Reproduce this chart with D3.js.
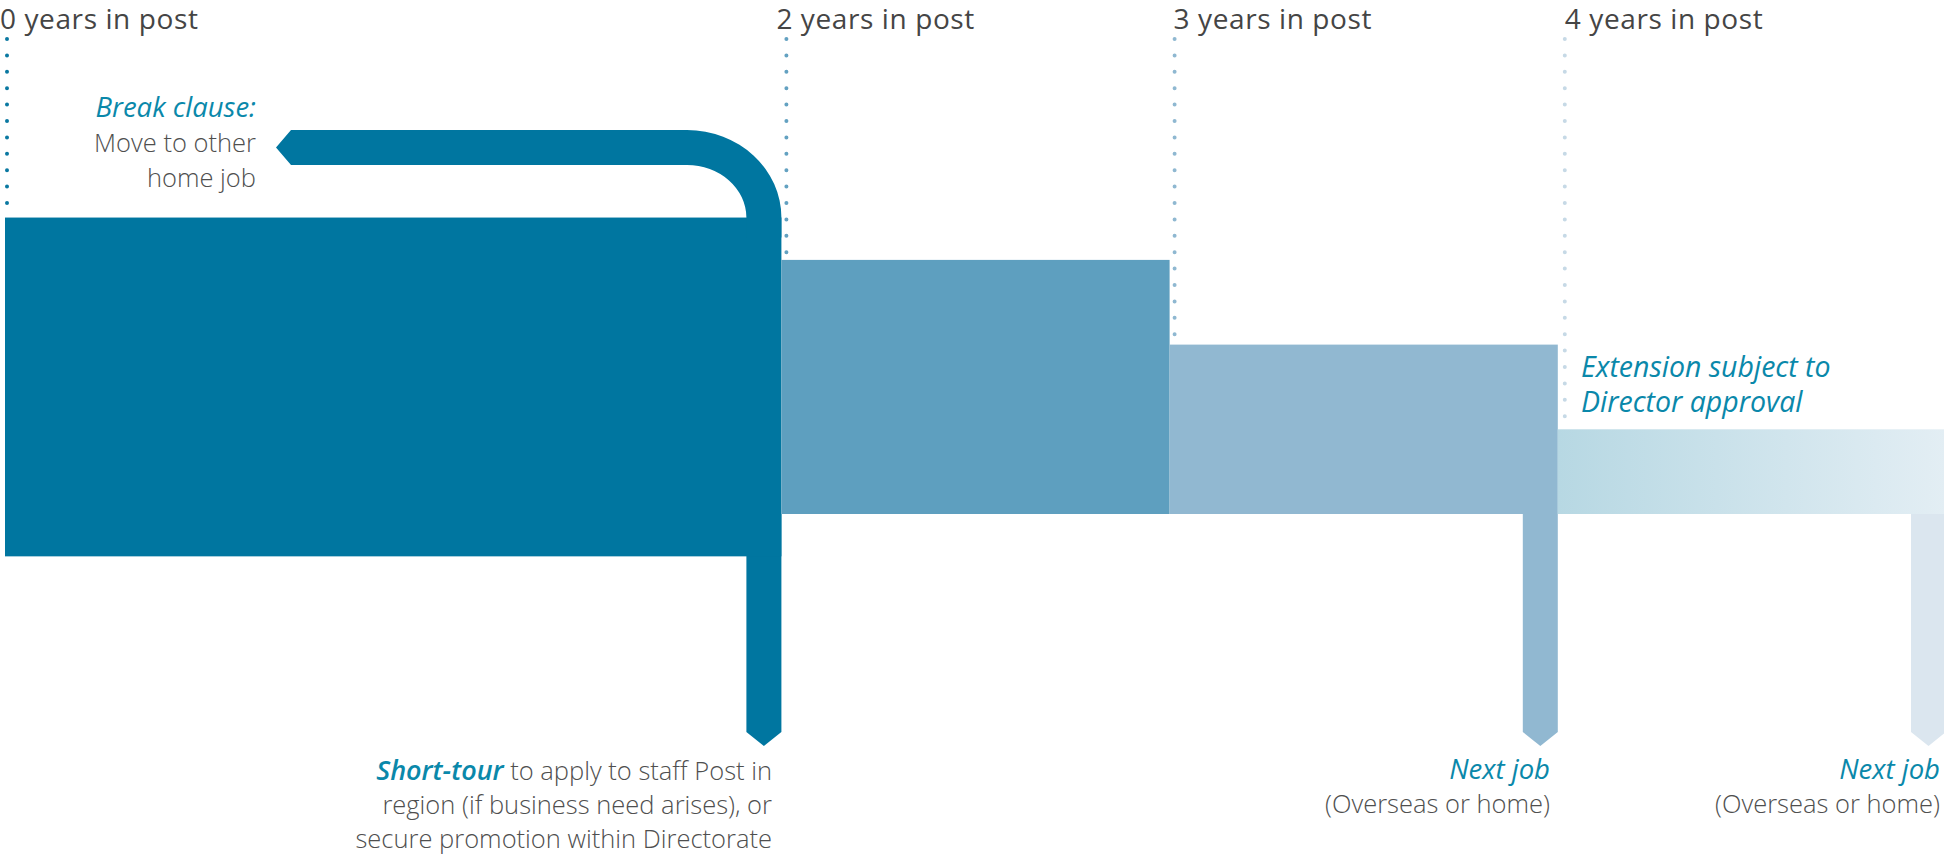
<!DOCTYPE html>
<html>
<head>
<meta charset="utf-8">
<script src="https://cdn.jsdelivr.net/npm/d3@7/dist/d3.min.js"></script>
<style>
  html, body { margin: 0; padding: 0; background: #ffffff; }
  svg { display: block; }
  text { font-family: "Open Sans", "Noto Sans", sans-serif; }
</style>
</head>
<body>
<svg id="chart" width="1944" height="857"></svg>
<script>
// ---------------- DATA ----------------
const headerYears  = [0, 2, 3, 4];
const headerLabels = ["0 years in post", "2 years in post", "3 years in post", "4 years in post"];
const dotColors    = ["#0a78a1", "#63a1c1", "#8fb8d1", "#c6d9e6"];

const stageStart   = [0, 2, 3, 4];       // years
const stageEnd     = [2, 3, 4, 5];       // years
const stageLow     = [-0.5, 0, 0, 0];    // relative size units
const stageHigh    = [3.5, 3, 2, 1];
const stageColors  = ["#0076a0", "#5e9fbf", "#91b8d1", "url(#fade)"];

const exitYears    = [2, 4, 5];
const exitColors   = ["#0076a0", "#91b8d1", "#dbe6ef"];

const fadeStops    = ["#b7d8e3", "#e3eef4"];

// ---------------- LAYOUT ----------------
const W = 1944, H = 857;
const svg = d3.select("#chart");
const x = d3.scaleLinear().domain([0, 5]).range([5, 1946]);
const y = d3.scaleLinear().domain([0, 1]).range([514, 429.3]);

const headerNudge = [-5, -5, 4, 7];
const dotNudge = [2, 5, 5, 7];
const dropW = 35, dropEnd = 732, tip = 14;
const teal = "#0a88aa", gray = "#4f4f4f", headGray = "#454545";

const defs = svg.append("defs");
const grad = defs.append("linearGradient").attr("id", "fade")
  .attr("x1", "0%").attr("x2", "100%").attr("y1", "0%").attr("y2", "0%");
grad.selectAll("stop").data(fadeStops).join("stop")
  .attr("offset", (d, i) => i === 0 ? "0%" : "100%")
  .attr("stop-color", d => d);

// dotted guide lines (stop at the top of the stage they meet)
svg.append("g").selectAll("line").data(headerYears).join("line")
  .attr("x1", (d, i) => x(d) + dotNudge[i]).attr("x2", (d, i) => x(d) + dotNudge[i])
  .attr("y1", 39).attr("y2", (d, i) => y(stageHigh[i]))
  .attr("stroke", (d, i) => dotColors[i])
  .attr("stroke-width", 4)
  .attr("stroke-linecap", "round")
  .attr("stroke-dasharray", "0 16.4");

// headers
svg.append("g").selectAll("text").data(headerYears).join("text")
  .attr("x", (d, i) => x(d) + headerNudge[i])
  .attr("y", 29)
  .attr("font-size", 28)
  .attr("letter-spacing", 0.6)
  .attr("fill", headGray)
  .text((d, i) => headerLabels[i]);

// exit drops
svg.append("g").selectAll("path").data(exitYears).join("path")
  .attr("d", d => {
    const r = x(d), l = r - dropW, m = (l + r) / 2, t = y(0);
    return `M${l},${t}L${r},${t}L${r},${dropEnd}L${m},${dropEnd + tip}L${l},${dropEnd}Z`;
  })
  .attr("fill", (d, i) => exitColors[i]);

// stage bars
svg.append("g").selectAll("rect").data(stageStart).join("rect")
  .attr("x", (d, i) => x(stageStart[i]))
  .attr("width", (d, i) => x(stageEnd[i]) - x(stageStart[i]))
  .attr("y", (d, i) => y(stageHigh[i]))
  .attr("height", (d, i) => y(stageLow[i]) - y(stageHigh[i]))
  .attr("fill", (d, i) => stageColors[i]);

// break clause path (from year-2 edge curving back left)
{
  const R = x(2), L = R - dropW;       // vertical part of the hook
  const bandTop = 130, bandBot = 165;  // horizontal band
  const joinY = y(stageHigh[0]);       // where it meets the first bar
  const cx = 687;                      // arc start
  const leftEnd = 291, tipX = 276;
  const d = [
    `M${tipX},${(bandTop + bandBot) / 2}`,
    `L${leftEnd},${bandTop}`,
    `L${cx},${bandTop}`,
    `A${R - cx},${joinY - bandTop} 0 0 1 ${R},${joinY}`,
    `L${R},${joinY + 20}`,
    `L${L},${joinY + 20}`,
    `L${L},${joinY}`,
    `A${L - cx},${joinY - bandBot} 0 0 0 ${cx},${bandBot}`,
    `L${leftEnd},${bandBot}`,
    "Z"
  ].join("");
  svg.append("path").attr("d", d).attr("fill", stageColors[0]);
}

// ---------------- LABELS ----------------
function block(lines, xPos, y0, dy, anchor) {
  const t = svg.append("text").attr("text-anchor", anchor);
  lines.forEach((ln, i) => {
    ln.forEach((seg, j) => {
      const ts = t.append("tspan").text(seg.t)
        .attr("fill", seg.c === "teal" ? teal : gray)
        .attr("font-size", seg.s || 25.5)
        .attr("font-weight", seg.w || 300)
        .attr("font-style", seg.i ? "italic" : "normal");
      if (j === 0) ts.attr("x", xPos).attr("y", y0 + i * dy);
    });
  });
}

block([
  [{t: "Break clause:", c: "teal", i: true, s: 27.5, w: 500}],
  [{t: "Move to other"}],
  [{t: "home job"}]
], 256, 117, 35, "end");

block([
  [{t: "Extension subject to", c: "teal", i: true, s: 28.5, w: 500}],
  [{t: "Director approval", c: "teal", i: true, s: 28.5, w: 500}]
], 1581, 377, 35, "start");

block([
  [{t: "Short-tour", c: "teal", i: true, s: 27, w: 600}, {t: " to apply to staff Post in"}],
  [{t: "region (if business need arises), or"}],
  [{t: "secure promotion within Directorate"}]
], 772, 780, 34, "end");

block([
  [{t: "Next job", c: "teal", i: true, s: 27.5, w: 500}],
  [{t: "(Overseas or home)"}]
], 1550, 779, 34, "end");

block([
  [{t: "Next job", c: "teal", i: true, s: 27.5, w: 500}],
  [{t: "(Overseas or home)"}]
], 1940, 779, 34, "end");
</script>
</body>
</html>
